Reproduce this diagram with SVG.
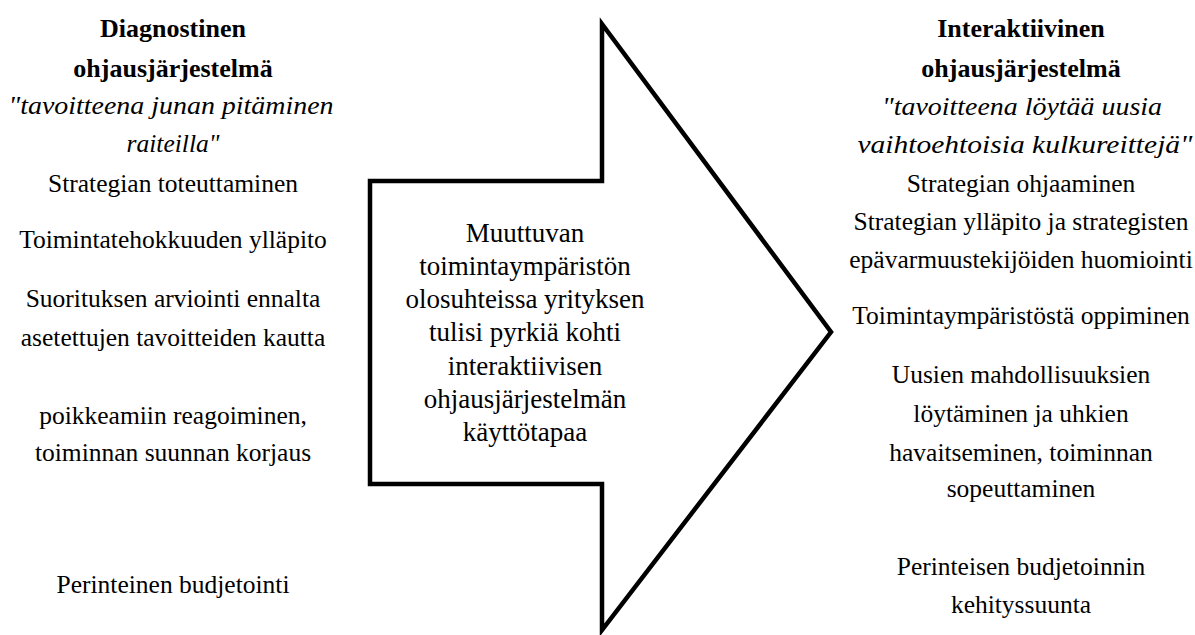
<svg xmlns="http://www.w3.org/2000/svg" width="1195" height="635" viewBox="0 0 1195 635" font-family="'Liberation Serif', 'DejaVu Serif', serif">
<style>
text{font-family:'Liberation Serif','DejaVu Serif',serif;fill:#000;text-anchor:middle}
.r{font-size:25.5px}
.b{font-size:26px;font-weight:bold}
.i{font-size:25.5px;font-style:italic}
.c{font-size:27px}
.arrow{fill:#fff;stroke:#000;stroke-width:4.5;stroke-linejoin:miter}
</style>
<rect width="1195" height="635" fill="#fff"/>
<g id="arrow">
<polygon class="arrow" points="370,181 602,181 602,24 831,332 602,630 602,484 370,484"/>
<text class="c" x="525" y="242">Muuttuvan</text>
<text class="c" x="525" y="275">toimintaympäristön</text>
<text class="c" x="525" y="308">olosuhteissa yrityksen</text>
<text class="c" x="525" y="341">tulisi pyrkiä kohti</text>
<text class="c" x="525" y="375">interaktiivisen</text>
<text class="c" x="525" y="408">ohjausjärjestelmän</text>
<text class="c" x="525" y="441">käyttötapaa</text>
</g>
<g id="left">
<text class="b" x="173" y="37">Diagnostinen</text>
<text class="b" x="173" y="77">ohjausjärjestelmä</text>
<text class="i" x="171" y="114" textLength="325" lengthAdjust="spacingAndGlyphs">"tavoitteena junan pitäminen</text>
<text class="i" x="173" y="152">raiteilla"</text>
<text class="r" x="173" y="192">Strategian toteuttaminen</text>
<text class="r" x="173" y="248">Toimintatehokkuuden ylläpito</text>
<text class="r" x="173" y="307">Suorituksen arviointi ennalta</text>
<text class="r" x="173" y="346">asetettujen tavoitteiden kautta</text>
<text class="r" x="173" y="424">poikkeamiin reagoiminen,</text>
<text class="r" x="173" y="461">toiminnan suunnan korjaus</text>
<text class="r" x="173" y="593">Perinteinen budjetointi</text>
</g>
<g id="right">
<text class="b" x="1021" y="37">Interaktiivinen</text>
<text class="b" x="1021" y="77">ohjausjärjestelmä</text>
<text class="i" x="1022" y="115" textLength="280" lengthAdjust="spacingAndGlyphs">"tavoitteena löytää uusia</text>
<text class="i" x="1025" y="153" textLength="335" lengthAdjust="spacingAndGlyphs">vaihtoehtoisia kulkureittejä"</text>
<text class="r" x="1021" y="192">Strategian ohjaaminen</text>
<text class="r" x="1021" y="230">Strategian ylläpito ja strategisten</text>
<text class="r" x="1021" y="268">epävarmuustekijöiden huomiointi</text>
<text class="r" x="1021" y="324">Toimintaympäristöstä oppiminen</text>
<text class="r" x="1021" y="383">Uusien mahdollisuuksien</text>
<text class="r" x="1021" y="422">löytäminen ja uhkien</text>
<text class="r" x="1021" y="461">havaitseminen, toiminnan</text>
<text class="r" x="1021" y="497">sopeuttaminen</text>
<text class="r" x="1021" y="575">Perinteisen budjetoinnin</text>
<text class="r" x="1021" y="613">kehityssuunta</text>
</g>
</svg>
